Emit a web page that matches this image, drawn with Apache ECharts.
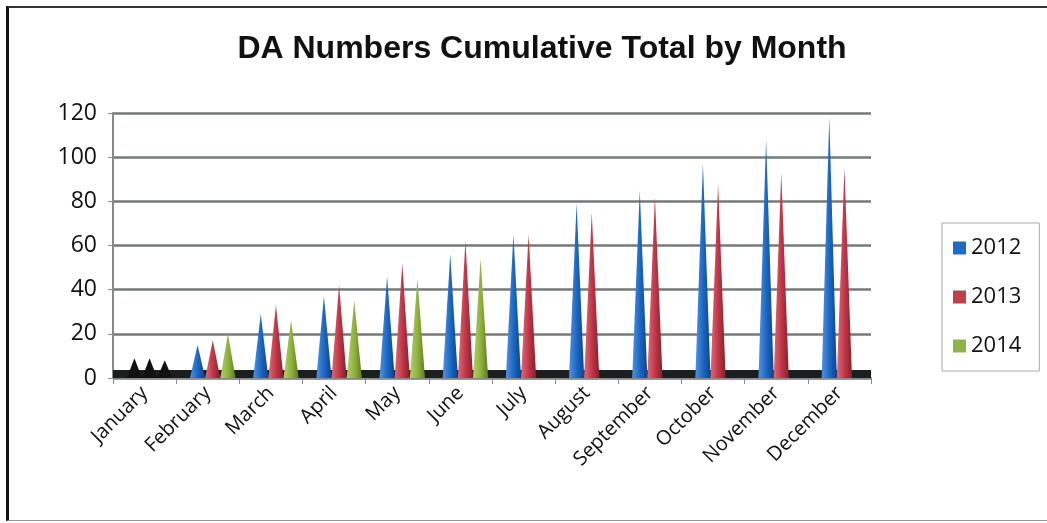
<!DOCTYPE html>
<html>
<head>
<meta charset="utf-8">
<script src="https://cdn.jsdelivr.net/npm/echarts@6/dist/echarts.min.js"></script>
<style>
html,body{margin:0;padding:0;background:#fff;}
#frame{position:absolute;left:6px;top:6px;width:1060px;height:515px;border-left:3px solid #111;border-top:2px solid #333;border-bottom:1px solid #999;box-sizing:border-box;}
#main{position:absolute;left:0;top:0;width:1047px;height:523px;}
</style>
</head>
<body>
<div id="frame"></div>
<div id="main"></div>
<script>
const months = ['January','February','March','April','May','June','July','August','September','October','November','December'];
const yTicks = [0, 20, 40, 60, 80, 100, 120];
const s2012 = [9, 15, 29, 37, 46, 56, 65, 79, 85, 97, 108, 118];
const s2013 = [9, 17, 33, 42, 52, 62, 65, 75, 82, 88, 93, 95];
const s2014 = [8, 20, 26, 35, 45, 54, null, null, null, null, null, null];
const seriesNames = ['2012', '2013', '2014'];

const chart = echarts.init(document.getElementById('main'), null, {renderer: 'canvas'});

function grad(c1, c2, c3) {
  return new echarts.graphic.LinearGradient(0, 0, 1, 0, [
    {offset: 0, color: c1}, {offset: 0.55, color: c2}, {offset: 1, color: c3}
  ]);
}
const fills = [
  grad('#4f93e2', '#1a64bf', '#0c4590'),
  grad('#de6a76', '#bd3444', '#85202c'),
  grad('#b2d06a', '#8caf3c', '#5c7c1e')
];
const legendColors = ['#1f6bc4', '#c0404c', '#8fb24a'];
const allData = [s2012, s2013, s2014];

function toData(arr) {
  return arr.map((v, i) => i === 0 && v != null ? {value: v, itemStyle: {color: '#111'}} : v);
}

const series = seriesNames.map((name, k) => {
  const s = {
    name: name,
    type: 'pictorialBar',
    symbol: 'triangle',
    symbolSize: ['100%', '100%'],
    symbolPosition: 'start',
    symbolOffset: [5, 0],
    barGap: '0%',
    barCategoryGap: '28%',
    itemStyle: {color: fills[k]},
    z: 5,
    data: toData(allData[k])
  };
  if (k === 0) {
    s.markArea = {
      silent: true,
      z: 1,
      itemStyle: {color: '#1b1f1f'},
      data: [[{yAxis: 0}, {yAxis: 3.6}]]
    };
  }
  return s;
});

chart.setOption({
  animation: false,
  backgroundColor: 'transparent',
  title: {
    text: 'DA Numbers Cumulative Total by Month',
    left: 537,
    textAlign: 'center',
    top: 28,
    textStyle: {fontFamily: 'Liberation Sans, Arial, sans-serif', fontWeight: 'bold', fontSize: 32, color: '#111'}
  },
  legend: {
    orient: 'vertical',
    left: 942,
    top: 223,
    itemWidth: 13,
    itemHeight: 13,
    itemGap: 27,
    padding: [14, 18, 14, 11],
    borderColor: '#aaa',
    borderWidth: 1,
    icon: 'rect',
    textStyle: {fontFamily: 'Open Sans, Noto Sans, sans-serif', fontSize: 22, color: '#111'},
    data: seriesNames.map((n, k) => ({name: n, itemStyle: {color: legendColors[k]}}))
  },
  grid: {left: 113, right: 176, top: 113, bottom: 145, containLabel: false},
  xAxis: {
    type: 'category',
    data: months,
    boundaryGap: true,
    axisLine: {show: true, lineStyle: {color: '#888', width: 2}},
    axisTick: {show: true, length: 6, lineStyle: {color: '#888', width: 1}},
    axisLabel: {rotate: 45, fontFamily: 'Open Sans, Noto Sans, sans-serif', fontSize: 20, color: '#111', margin: 12, interval: 0}
  },
  yAxis: {
    type: 'value',
    min: 0,
    max: 120,
    interval: 20,
    axisLine: {show: true, lineStyle: {color: '#888', width: 2}},
    axisTick: {show: true, length: 5, lineStyle: {color: '#888'}},
    axisLabel: {fontFamily: 'Open Sans, Noto Sans, sans-serif', fontSize: 23, color: '#111', margin: 16,
      formatter: v => yTicks.indexOf(v) >= 0 ? String(v) : ''},
    splitLine: {show: true, lineStyle: {color: '#757979', width: 2.5}}
  },
  series: series
});
</script>
</body>
</html>
